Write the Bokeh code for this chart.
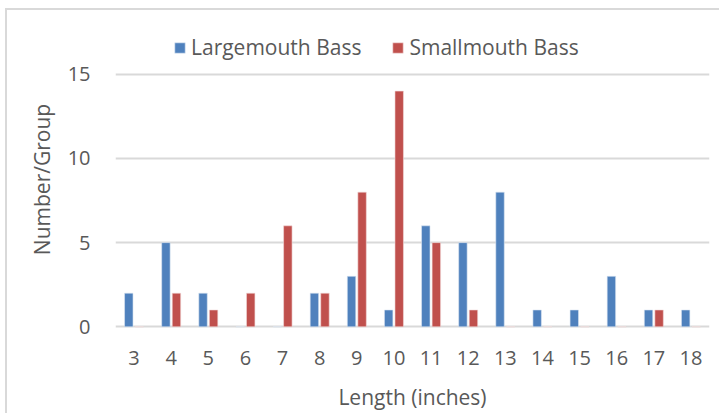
from bokeh.plotting import figure
from bokeh.models import ColumnDataSource, FactorRange, Range1d, Legend, LegendItem, FixedTicker, InlineStyleSheet
from bokeh.transform import dodge
from bokeh.embed import file_html
from bokeh.resources import INLINE

lengths = ["3", "4", "5", "6", "7", "8", "9", "10", "11", "12", "13", "14", "15", "16", "17", "18"]
largemouth = [2, 5, 2, 0, 0, 2, 3, 1, 6, 5, 8, 1, 1, 3, 1, 1]
smallmouth = [0, 2, 1, 2, 6, 2, 8, 14, 5, 1, 0, 0, 0, 0, 1, 0]
y_ticks = [0, 5, 10, 15]

FONT = "Open Sans"
TXT = "#595959"
GRID = "#d9d9d9"
BLUE = "#4F81BD"
RED = "#C0504D"

src = ColumnDataSource(dict(cat=lengths, lm=largemouth, sm=smallmouth))

p = figure(x_range=FactorRange(*lengths), y_range=Range1d(-0.1, 17.6),
           frame_width=594, frame_height=298,
           min_border_left=115, min_border_right=10, min_border_top=30, min_border_bottom=78,
           output_backend="svg", toolbar_location=None)
p.border_fill_color = None
p.background_fill_color = None
p.stylesheets = [InlineStyleSheet(css=(
    ":host { background-image: linear-gradient(#d9d9d9, #d9d9d9), linear-gradient(#d9d9d9, #d9d9d9);"
    " background-repeat: no-repeat; background-position: 5px 8px, 5px 8px;"
    " background-size: 100% 2px, 2px 100%; }"))]

r1 = p.vbar(x=dodge("cat", -0.142, range=p.x_range), top="lm", width=0.228, source=src,
            fill_color=BLUE, line_color="#dbe5f1", line_width=0.6)
r2 = p.vbar(x=dodge("cat", 0.142, range=p.x_range), top="sm", width=0.228, source=src,
            fill_color=RED, line_color="#f2dcdb", line_width=0.6)

p.outline_line_color = None
p.xgrid.grid_line_color = None
p.ygrid.grid_line_color = GRID
p.ygrid.grid_line_width = 2
p.yaxis.ticker = FixedTicker(ticks=y_ticks)

for ax in (p.xaxis, p.yaxis):
    ax.axis_line_color = None
    ax.major_tick_line_color = None
    ax.minor_tick_line_color = None
    ax.major_label_text_font = FONT
    ax.major_label_text_font_size = "20px"
    ax.major_label_text_color = TXT
    ax.axis_label_text_font = FONT
    ax.axis_label_text_font_size = "21px"
    ax.axis_label_text_font_style = "normal"
    ax.axis_label_text_color = TXT

p.xaxis.axis_label = "Length (inches)"
p.yaxis.axis_label = "Number/Group"
p.xaxis.major_label_standoff = 16
p.xaxis.axis_label_standoff = 15
p.yaxis.major_label_standoff = 19
p.yaxis.axis_label_standoff = 9

legend = Legend(items=[LegendItem(label="Largemouth Bass", renderers=[r1]),
                       LegendItem(label="Smallmouth Bass", renderers=[r2])],
                location=(58, 267), orientation="horizontal",
                label_text_font=FONT, label_text_font_size="21px", label_text_color=TXT,
                glyph_width=13, glyph_height=13, label_standoff=5, spacing=30,
                padding=0, margin=0, border_line_color=None, background_fill_alpha=0)
p.add_layout(legend, "center")

open("out.html", "w").write(file_html(p, INLINE))
